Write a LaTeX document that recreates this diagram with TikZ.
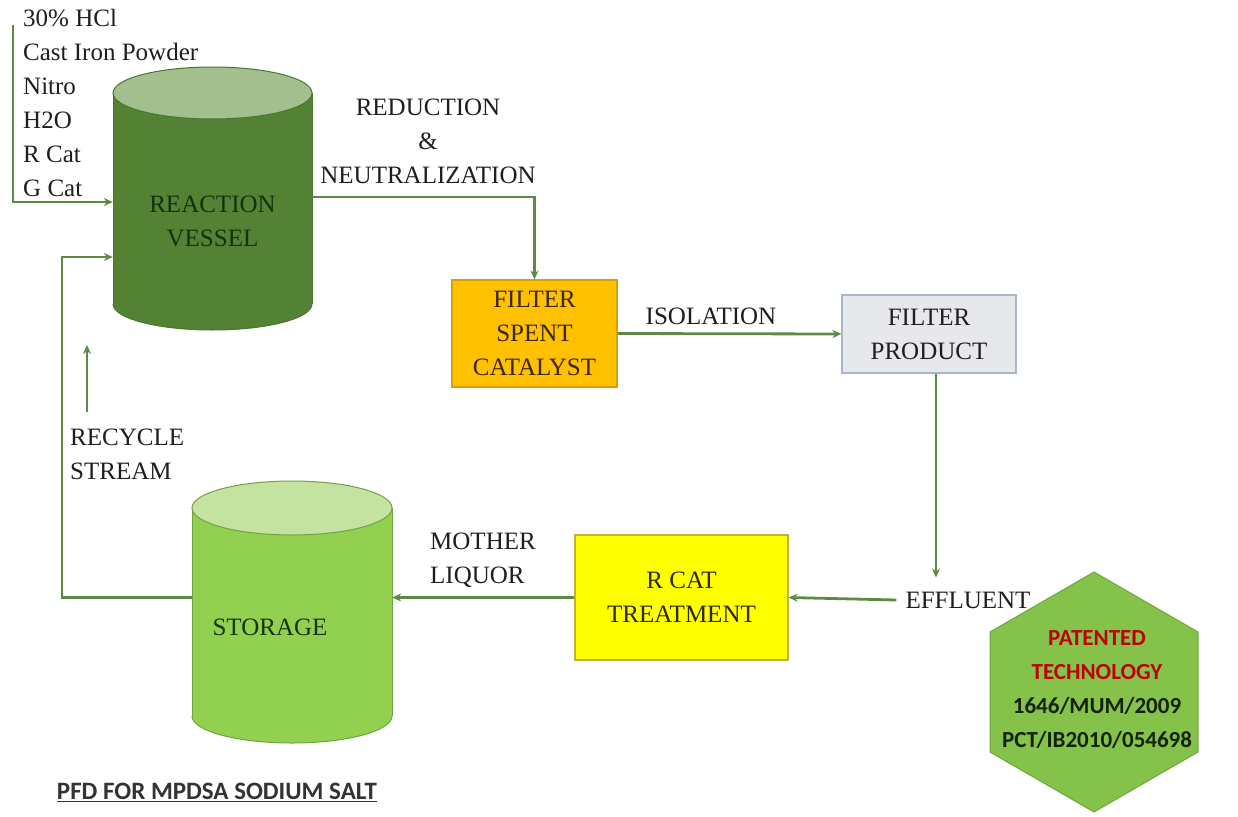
\documentclass[tikz,border=0pt]{standalone}
\usepackage{fontspec}
\setmainfont{Liberation Serif}
\newfontfamily\hexfont{Carlito}
\usetikzlibrary{arrows.meta,calc}
\definecolor{flowc}{HTML}{5E8A45}
\definecolor{rvbody}{HTML}{548235}
\definecolor{rvtop}{HTML}{A3BF8E}
\definecolor{rvline}{HTML}{4A7530}
\definecolor{rvtext}{HTML}{15300C}
\definecolor{stbody}{HTML}{92D050}
\definecolor{sttop}{HTML}{C4E2A0}
\definecolor{stline}{HTML}{72A23E}
\definecolor{sttext}{HTML}{173308}
\definecolor{lblc}{HTML}{1E1E1E}
\definecolor{fscfill}{HTML}{FFC000}
\definecolor{fscline}{HTML}{D9A000}
\definecolor{fsctext}{HTML}{3A2600}
\definecolor{fpfill}{HTML}{E6E8EC}
\definecolor{fpline}{HTML}{A9B6C9}
\definecolor{fptext}{HTML}{1E1E1E}
\definecolor{rcfill}{HTML}{FFFF00}
\definecolor{rcline}{HTML}{BFB040}
\definecolor{rctext}{HTML}{2A2A00}
\definecolor{hexfill}{HTML}{84C24A}
\definecolor{hexline}{HTML}{6FA640}
\definecolor{hextext}{HTML}{14220A}
\definecolor{patred}{HTML}{C00000}
\definecolor{titlec}{HTML}{333333}
\newcommand\lblfont{\fontsize{25}{34}\selectfont}
\newcommand\hexsize{\fontsize{23}{34}\selectfont}
\tikzset{
  flow/.style={draw=flowc, line width=2.8pt, -{Stealth[length=9pt,width=8pt]}},
  lbl/.style={font=\lblfont, text=lblc, align=center, inner sep=0pt},
  anchorbox/.style={draw=none, inner sep=0pt},
  procbox/.style={draw, line width=1.2pt, font=\lblfont, align=center, inner sep=0pt},
}
\begin{document}
\begin{tikzpicture}[x=1pt,y=-1pt]
\useasboundingbox (0,0) rectangle (1238,816);
% ---------- reaction vessel ----------
\fill[rvbody] (113,93) rectangle (312,304);
\fill[rvbody] (212.5,304) ellipse [x radius=99.5, y radius=26];
\begin{scope}
  \clip (100,304) rectangle (330,340);
  \draw[rvline, line width=1pt] (212.5,304) ellipse [x radius=99.5, y radius=26];
\end{scope}
\draw[rvline, line width=1pt] (113,93) -- (113,304) (312,93) -- (312,304);
\filldraw[fill=rvtop, draw=rvline, line width=1pt] (212.5,93) ellipse [x radius=99.5, y radius=26];
\node[anchorbox, minimum width=199pt, minimum height=212pt] (rv) at (212.5,202) {};
\node[font=\lblfont, text=rvtext, align=center, inner sep=0pt] (rvt) at (212.5,221) {REACTION\\VESSEL};
% ---------- storage ----------
\fill[stbody] (192,508) rectangle (392,716);
\fill[stbody] (292,716) ellipse [x radius=100, y radius=27];
\begin{scope}
  \clip (180,716) rectangle (410,760);
  \draw[stline, line width=1pt] (292,716) ellipse [x radius=100, y radius=27];
\end{scope}
\draw[stline, line width=1pt] (192,508) -- (192,716) (392,508) -- (392,716);
\filldraw[fill=sttop, draw=stline, line width=1pt] (292,508) ellipse [x radius=100, y radius=27];
\node[anchorbox, minimum width=200pt, minimum height=208pt] (st) at (292,612) {};
\node[font=\lblfont, text=sttext, inner sep=0pt] (stt) at (270,627) {STORAGE};
% ---------- boxes ----------
\node[procbox, fill=fscfill, draw=fscline, text=fsctext, minimum width=165pt, minimum height=107pt] (fsc) at (534.5,333.5) {FILTER\\SPENT\\CATALYST};
\node[procbox, fill=fpfill, draw=fpline, text=fptext, minimum width=174pt, minimum height=78pt] (fp) at (929,334) {FILTER\\PRODUCT};
\node[procbox, fill=rcfill, draw=rcline, text=rctext, minimum width=213pt, minimum height=125pt] (rcat) at (681.5,597.5) {R CAT\\TREATMENT};
\node[lbl, inner xsep=9pt] (eff) at (968,600) {EFFLUENT};
% ---------- labels ----------
\node[lbl, align=left, anchor=west] (inputs) at (23,103) {30\% HCl\\Cast Iron Powder\\Nitro\\H2O\\R Cat\\G Cat};
\node[lbl] (redn) at (428,141) {REDUCTION\\\&\\NEUTRALIZATION};
\node[lbl] (iso) at (711,316) {ISOLATION};
\node[lbl, align=left, anchor=west] (rs) at (70,454) {RECYCLE\\STREAM};
\node[lbl, align=left, anchor=west] (ml) at (430,560) {MOTHER\\LIQUOR};
% ---------- connectors ----------
\coordinate (in) at (13,25);
\coordinate (rc) at (62,257);
\coordinate (ra1) at (87,412);
\coordinate (ra2) at (87,345);
\draw[flow] (in) |- (rv.west);
\draw[flow] (st.west |- rcat.west) -| (rc) -- (rc -| rv.west);
\draw[flow] (ra1) -- (ra2);
\draw[flow] ([yshift=5pt]rv.east) -| (fsc.north);
\draw[flow] (fsc.east) -- (fp.west);
\draw[flow] ([xshift=7pt]fp.south) -- ([xshift=7pt,yshift=14pt]fp.south |- eff.north);
\draw[flow] (eff.west) -- (rcat.east);
\draw[flow] (rcat.west) -- (st.east |- rcat.west);
% ---------- hexagon ----------
\filldraw[fill=hexfill, draw=hexline, line width=1pt] (1094,572) -- (1198,632) -- (1198,752) -- (1094,812) -- (990,752) -- (990,632) -- cycle;
\node[font=\hexfont\bfseries\hexsize, align=center, inner sep=0pt, text=hextext] (hex) at (1097,690)
  {\textcolor{patred}{PATENTED}\\\textcolor{patred}{TECHNOLOGY}\\1646/MUM/2009\\PCT/IB2010/054698};
% ---------- title ----------
\node[font=\hexfont\bfseries\fontsize{25}{28}\selectfont, text=titlec, inner sep=0pt] (title) at (217,792) {\underline{PFD FOR MPDSA SODIUM SALT}};
\end{tikzpicture}
\end{document}
